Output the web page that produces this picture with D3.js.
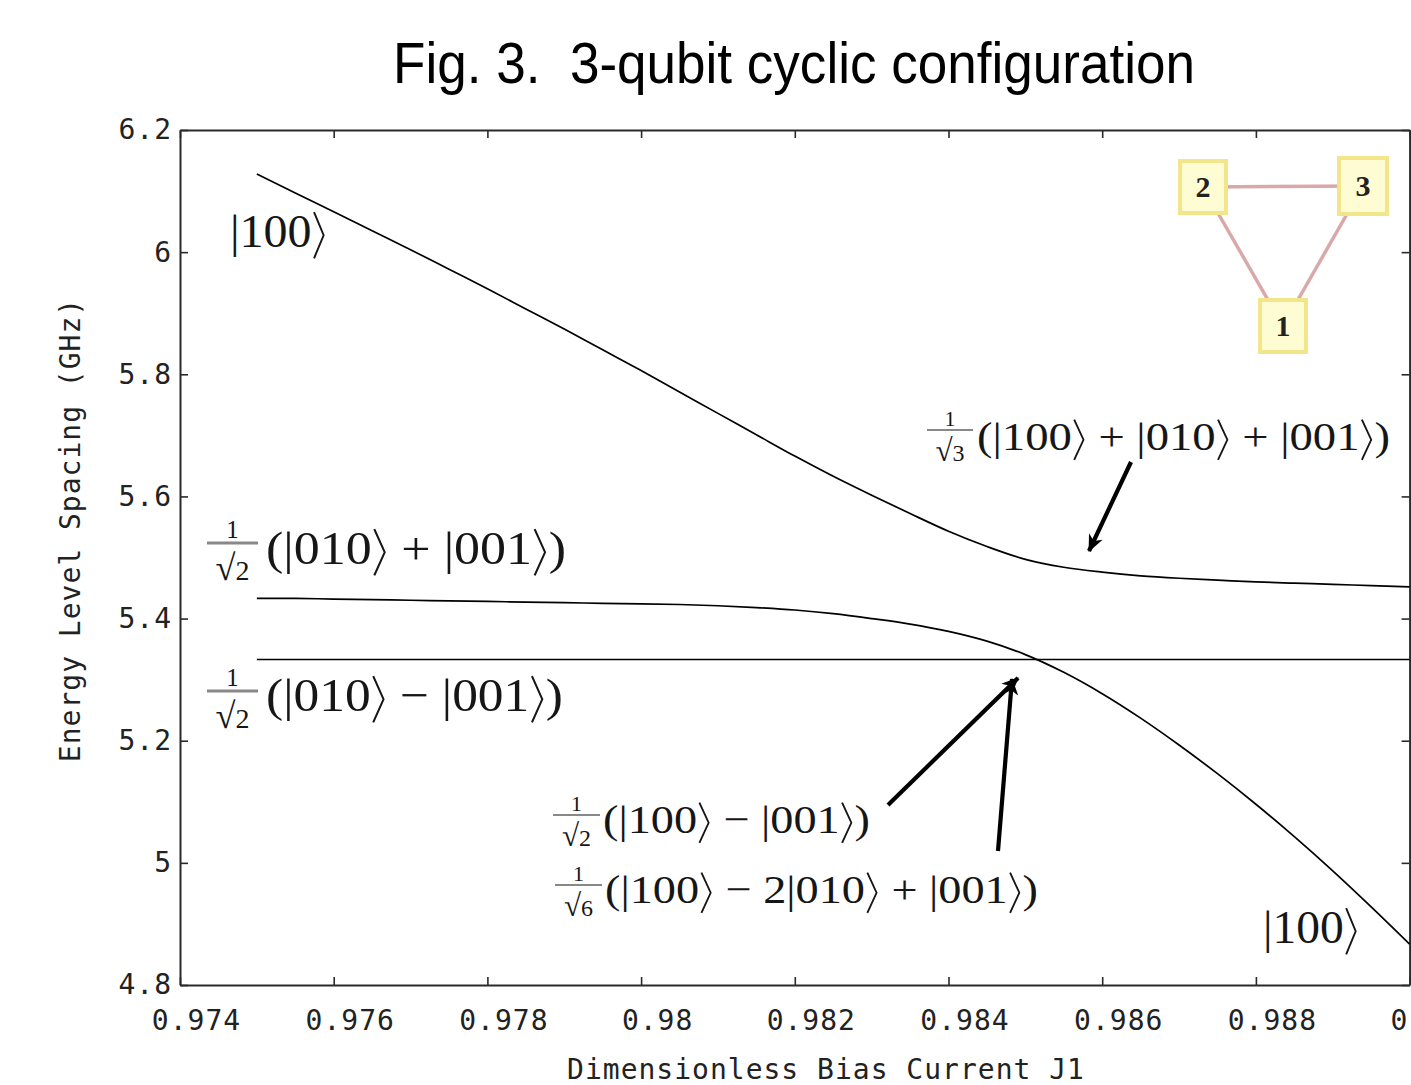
<!DOCTYPE html>
<html><head><meta charset="utf-8">
<script src="https://cdn.jsdelivr.net/npm/d3@7"></script>
<style>html,body{margin:0;padding:0;background:#fff;overflow:hidden}</style>
</head><body><svg id="c" width="1411" height="1085"></svg>
<script>
// ---------------- data ----------------
const J = [0.9750,0.9755,0.9760,0.9765,0.9770,0.9775,0.9780,0.9785,0.9790,0.9795,0.9800,
           0.9805,0.9810,0.9815,0.9820,0.9825,0.9830,0.9835,0.9840,0.9845,0.9850,
           0.9855,0.9860,0.9865,0.9870,0.9875,0.9880,0.9885,0.9890,0.9895,0.9900];
const upperLevel = [6.128,6.097,6.066,6.035,6.004,5.972,5.940,5.907,5.874,5.840,5.806,
                    5.771,5.736,5.701,5.666,5.633,5.602,5.572,5.543,5.518,5.497,
                    5.484,5.476,5.470,5.466,5.463,5.460,5.458,5.456,5.454,5.452];
const middleLevel = [5.433,5.433,5.432,5.431,5.430,5.429,5.428,5.427,5.426,5.425,5.424,
                     5.423,5.421,5.418,5.414,5.408,5.400,5.391,5.379,5.363,5.341,
                     5.312,5.277,5.237,5.193,5.146,5.096,5.043,4.987,4.928,4.867];
const flatLevel = [5.333,5.333,5.333,5.333,5.333,5.333,5.333,5.333,5.333,5.333,5.333,
                   5.333,5.333,5.333,5.333,5.333,5.333,5.333,5.333,5.333,5.333,
                   5.333,5.333,5.333,5.333,5.333,5.333,5.333,5.333,5.333,5.333];
const xTicks = [0.974,0.976,0.978,0.980,0.982,0.984,0.986,0.988,0.990];
const yTicks = [4.8,5.0,5.2,5.4,5.6,5.8,6.0,6.2];
const titleText = "Fig. 3.  3-qubit cyclic configuration";
const xLabel = "Dimensionless Bias Current J1";
const yLabel = "Energy Level Spacing (GHz)";
const qubitNodes = ["1","2","3"];
const qubitEdges = [["2","3"],["2","1"],["3","1"]];

// ---------------- layout ----------------
const svg = d3.select("#c");
const L = 180, R = 1409.6, T = 130, B = 985;
const x = d3.scaleLinear().domain([0.974, 0.990]).range([L, R]);
const y = d3.scaleLinear().domain([4.8, 6.2]).range([B, T]);
const mono = "'DejaVu Sans Mono', 'Liberation Mono', monospace";
const serif = "'Liberation Serif', 'DejaVu Serif', serif";
const ink = "#161616";

// title
svg.append("text").attr("x", 393).attr("y", 83)
  .attr("font-family", "'Liberation Sans', Arial, sans-serif").attr("font-size", 57)
  .attr("textLength", 802).attr("lengthAdjust", "spacingAndGlyphs")
  .style("white-space", "pre").attr("fill", "#000").text(titleText);

// axes
const fmtX = d => String(+d.toFixed(3));
const fmtY = d => String(+d.toFixed(1));
function styleAxis(g){
  g.selectAll(".domain").attr("stroke", "#2a2a2a").attr("stroke-width", 2);
  g.selectAll(".tick line").attr("stroke", "#2a2a2a").attr("stroke-width", 1.6);
  g.selectAll("text").attr("font-family", mono).attr("font-size", 28).attr("fill", "#222")
    .attr("letter-spacing", 1);
}
const gx = svg.append("g").attr("transform", `translate(0,${B})`)
  .call(d3.axisBottom(x).tickValues(xTicks).tickFormat(fmtX).tickSize(-8).tickSizeOuter(0).tickPadding(25));
styleAxis(gx);
gx.selectAll("text").attr("dx", 16);
const gy = svg.append("g").attr("transform", `translate(${L},0)`)
  .call(d3.axisLeft(y).tickValues(yTicks).tickFormat(fmtY).tickSize(-8).tickSizeOuter(0).tickPadding(8));
styleAxis(gy);
const gt = svg.append("g").attr("transform", `translate(0,${T})`)
  .call(d3.axisTop(x).tickValues(xTicks).tickFormat("").tickSize(-8).tickSizeOuter(0));
styleAxis(gt);
const gr = svg.append("g").attr("transform", `translate(${R},0)`)
  .call(d3.axisRight(y).tickValues(yTicks).tickFormat("").tickSize(-8).tickSizeOuter(0));
styleAxis(gr);

// axis titles
svg.append("text").attr("x", 826).attr("y", 1079).attr("text-anchor", "middle")
  .attr("font-family", mono).attr("font-size", 28).attr("letter-spacing", 1)
  .attr("fill", "#222").text(xLabel);
svg.append("text").attr("transform", "translate(80,530) rotate(-90)").attr("text-anchor", "middle")
  .attr("font-family", mono).attr("font-size", 28).attr("letter-spacing", 1)
  .attr("fill", "#222").text(yLabel);

// curves
const line = d3.line().x(d => x(d[0])).y(d => y(d[1])).curve(d3.curveCatmullRom.alpha(0.5));
[upperLevel, middleLevel, flatLevel].forEach(s => {
  svg.append("path").datum(J.map((j, i) => [j, s[i]]))
    .attr("d", line).attr("fill", "none").attr("stroke", "#000").attr("stroke-width", 1.7);
});

// arrows
const defs = svg.append("defs");
defs.append("marker").attr("id", "ah").attr("markerUnits", "userSpaceOnUse")
  .attr("viewBox", "-18 -9 20 18").attr("refX", 0).attr("refY", 0)
  .attr("markerWidth", 20).attr("markerHeight", 18).attr("orient", "auto")
  .append("path").attr("d", "M1,0 L-16,-7.5 L-11,0 L-16,7.5 Z").attr("fill", "#000");
const arrows = [[1131,462,1089,551],[888,805,1018,678],[998,851,1012,679]];
arrows.forEach(a => {
  svg.append("line").attr("x1", a[0]).attr("y1", a[1]).attr("x2", a[2]).attr("y2", a[3])
    .attr("stroke", "#000").attr("stroke-width", 4.2).attr("marker-end", "url(#ah)");
});

// math text: ket brackets drawn as thin strokes, rest as serif text; fitted to a width
function mathText(x0, base, size, targetW, str){
  const g = svg.append("g");
  let cur = 0, run = "";
  const flush = () => {
    if (!run) return;
    const t = g.append("text").attr("x", cur).attr("y", base).attr("font-family", serif)
      .attr("font-size", size).attr("fill", ink).style("white-space", "pre").text(run);
    cur += t.node().getComputedTextLength();
    run = "";
  };
  for (const ch of str){
    if (ch === "⟩"){
      flush();
      const x1 = cur + 0.05*size, x2 = cur + 0.25*size;
      g.append("path")
        .attr("d", `M${x1},${base-0.74*size} L${x2},${base-0.25*size} L${x1},${base+0.24*size}`)
        .attr("fill", "none").attr("stroke", ink).attr("stroke-width", 0.04*size)
        .attr("stroke-linejoin", "miter");
      cur += 0.32*size;
    } else run += ch;
  }
  flush();
  g.attr("transform", `translate(${x0},0) scale(${targetW/cur},1)`);
}
mathText(230, 247, 47, 97, "|100⟩");
mathText(1263, 943, 47, 96, "|100⟩");

function frac(o){
  const cx = o.bx + o.bw / 2;
  svg.append("line").attr("x1", o.bx).attr("x2", o.bx + o.bw).attr("y1", o.by).attr("y2", o.by)
    .attr("stroke", "#888").attr("stroke-width", o.bt);
  svg.append("text").attr("x", cx).attr("y", o.nY).attr("text-anchor", "middle")
    .attr("font-family", serif).attr("font-size", o.nS).attr("fill", ink).text("1");
  const d = svg.append("text").attr("x", cx).attr("y", o.dY).attr("text-anchor", "middle")
    .attr("font-family", serif).attr("fill", ink);
  d.append("tspan").attr("font-size", o.dS * 1.3).text("√");
  d.append("tspan").attr("font-size", o.dS).text(o.den);
  mathText(o.tx, o.tY, o.tS, o.tw, o.body);
}
frac({bx:927, bw:46, by:430, bt:1.8, nY:426, nS:22, dY:461, dS:24, den:"3",
      tx:977, tY:450, tS:41, tw:413, body:"(|100⟩ + |010⟩ + |001⟩)"});
frac({bx:207, bw:51, by:543, bt:3, nY:538, nS:25, dY:580, dS:28, den:"2",
      tx:266, tY:564, tS:47, tw:300, body:"(|010⟩ + |001⟩)"});
frac({bx:207, bw:51, by:691, bt:3, nY:686, nS:25, dY:728, dS:28, den:"2",
      tx:266, tY:711, tS:47, tw:297, body:"(|010⟩ − |001⟩)"});
frac({bx:553, bw:47, by:815, bt:1.8, nY:811, nS:22, dY:846, dS:24, den:"2",
      tx:603, tY:833, tS:41, tw:267, body:"(|100⟩ − |001⟩)"});
frac({bx:555, bw:47, by:885, bt:1.8, nY:881, nS:22, dY:916, dS:24, den:"6",
      tx:605, tY:903, tS:41, tw:433, body:"(|100⟩ − 2|010⟩ + |001⟩)"});

// inset: qubit graph
const nodePos = {"1":[1283,326], "2":[1203,187], "3":[1363,186]};
const gi = svg.append("g");
qubitEdges.forEach(e => {
  gi.append("line").attr("x1", nodePos[e[0]][0]).attr("y1", nodePos[e[0]][1])
    .attr("x2", nodePos[e[1]][0]).attr("y2", nodePos[e[1]][1])
    .attr("stroke", "#d9a9a9").attr("stroke-width", 3.5);
});
qubitNodes.forEach(n => {
  const p = nodePos[n];
  const w = n === "3" ? 48 : 46, h = n === "3" ? 56 : 52;
  gi.append("rect").attr("x", p[0]-w/2).attr("y", p[1]-h/2).attr("width", w).attr("height", h)
    .attr("fill", "#fefcd2").attr("stroke", "#f3e58a").attr("stroke-width", 4);
  gi.append("text").attr("x", p[0]).attr("y", p[1]+10).attr("text-anchor", "middle")
    .attr("font-family", serif).attr("font-weight", "bold").attr("font-size", 30)
    .attr("fill", "#222").text(n);
});
</script></body></html>
